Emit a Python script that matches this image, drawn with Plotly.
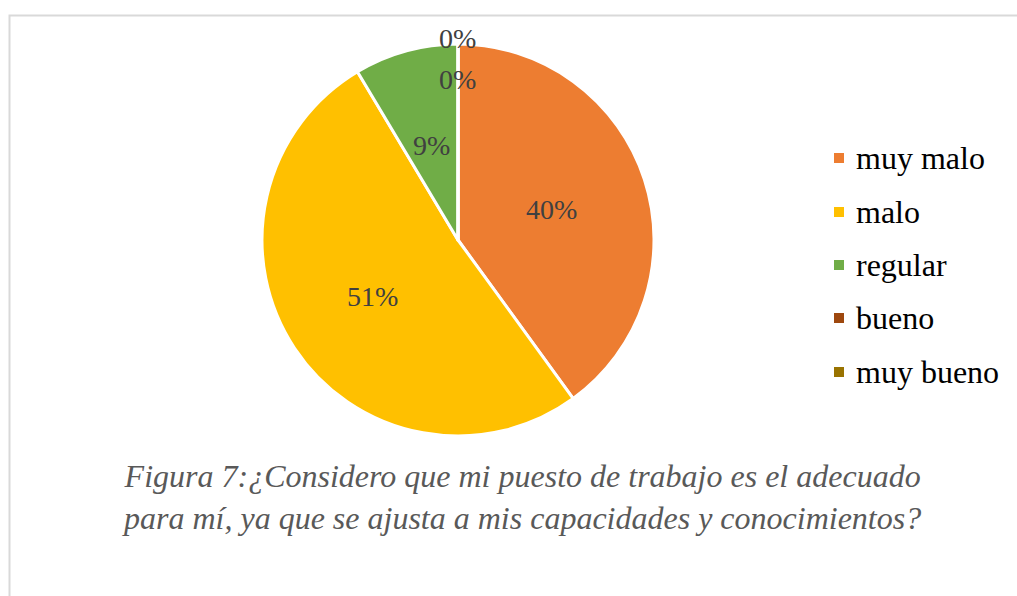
import math
import plotly.graph_objects as go

categories = ["muy malo", "malo", "regular", "bueno", "muy bueno"]
counts = [14, 18, 3, 0, 0]
colors = ["#ED7D31", "#FFC000", "#70AD47", "#9E480E", "#997300"]
title_lines = ["Figura 7:¿Considero que mi puesto de trabajo es el adecuado",
               "para mí, ya que se ajusta a mis capacidades y conocimientos?"]

# label placement (fraction of radius) per slice, styling only
label_r = [0.50, 0.52, 0.50, 1.03, 0.82]

SERIF = "Liberation Serif"
W, H = 1017, 596
cx, cy, R = 458, 240, 196

fig = go.Figure()
fig.add_trace(go.Pie(
    labels=categories, values=counts, sort=False, direction="clockwise", rotation=0,
    marker=dict(colors=colors, line=dict(color="white", width=3)),
    textinfo="none", showlegend=False, hoverinfo="label+percent",
    domain=dict(x=[(cx - R) / W, (cx + R) / W], y=[1 - (cy + R) / H, 1 - (cy - R) / H]),
))

annotations = []
total = sum(counts)
cum = 0
for i, v in enumerate(counts):
    mid = (cum + v / 2) / total * 2 * math.pi
    cum += v
    px = cx + label_r[i] * R * math.sin(mid)
    py = cy - label_r[i] * R * math.cos(mid)
    annotations.append(dict(
        x=px / W, y=1 - py / H, xref="paper", yref="paper", showarrow=False,
        text=f"{round(v / total * 100)}%",
        font=dict(family=SERIF, size=28, color="#404040"),
        xanchor="center", yanchor="middle"))

shapes = []
leg_y = [158, 212, 265, 318, 372]
for i, c in enumerate(categories):
    y = leg_y[i]
    shapes.append(dict(type="rect", xref="paper", yref="paper",
                       x0=834 / W, x1=844 / W, y0=1 - (y + 5) / H, y1=1 - (y - 5) / H,
                       fillcolor=colors[i], line=dict(width=0)))
    annotations.append(dict(x=854 / W, y=1 - y / H, xref="paper", yref="paper",
                            showarrow=False, text=c, xanchor="left", yanchor="middle",
                            font=dict(family=SERIF, size=32, color="#000000")))

annotations.append(dict(x=521 / W, y=1 - 497 / H, xref="paper", yref="paper",
                        showarrow=False, text="<br>".join(title_lines),
                        xanchor="center", yanchor="middle", align="center",
                        font=dict(family=SERIF, size=32, color="#595959",
                                  style="italic")))

# outer chart frame
shapes.append(dict(type="rect", xref="paper", yref="paper",
                   x0=9.5 / W, x1=1.05, y0=-0.05, y1=1 - 15.5 / H,
                   line=dict(color="#D9D9D9", width=2), fillcolor="rgba(0,0,0,0)", layer="below"))

fig.update_layout(width=W, height=H, margin=dict(l=0, r=0, t=0, b=0),
                  paper_bgcolor="white", plot_bgcolor="white",
                  annotations=annotations, shapes=shapes)
fig.write_html("out.html", post_script="document.body.style.margin='0';",
               config={"displayModeBar": False})
